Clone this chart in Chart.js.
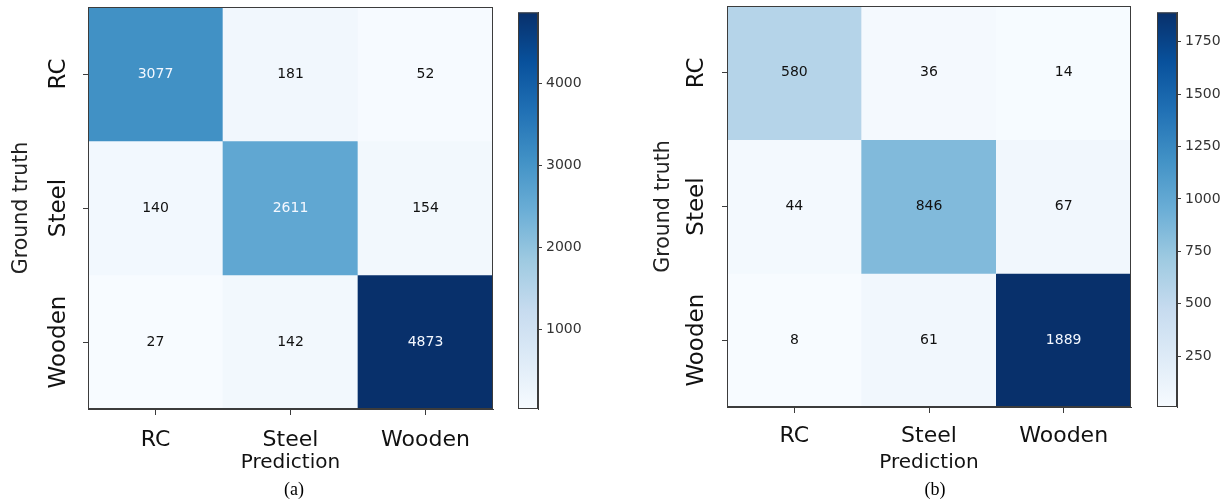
<!DOCTYPE html>
<html>
<head>
<meta charset="utf-8">
<script src="https://cdn.jsdelivr.net/npm/chart.js@4.4.1/dist/chart.umd.min.js"></script>
<style>
  html, body { margin: 0; padding: 0; background: #fff; }
  #wrap { position: relative; width: 1231px; height: 502px; overflow: hidden; background: #fff; }
  .box { position: absolute; top: 0; }
  .cap { position: absolute; font-family: "Liberation Serif", "Times New Roman", serif; font-size: 18px;
         color: #000; transform: translate(-50%, -50%); white-space: nowrap; }
</style>
</head>
<body>
<div id="wrap">
  <div class="box" style="left:0px"><canvas id="cmA" width="500" height="480"></canvas></div>
  <div class="box" style="left:505px"><canvas id="cbA" width="100" height="430"></canvas></div>
  <div class="box" style="left:620px"><canvas id="cmB" width="520" height="480"></canvas></div>
  <div class="box" style="left:1145px"><canvas id="cbB" width="86" height="430"></canvas></div>
  <div class="cap" style="left:294px; top:489px">(a)</div>
  <div class="cap" style="left:935px; top:489px">(b)</div>
</div>
<script>
// Class names on both axes
const predLabels = ['RC', 'Steel', 'Wooden'];
const truthLabels = ['RC', 'Steel', 'Wooden'];

// Confusion matrices: rows = ground truth, columns = prediction
const matrixA = [
  [3077, 181, 52],
  [140, 2611, 154],
  [27, 142, 4873]
];
const matrixB = [
  [580, 36, 14],
  [44, 846, 67],
  [8, 61, 1889]
];

// Colour bar tick values
const colorbarTicksA = [1000, 2000, 3000, 4000];
const colorbarTicksB = [250, 500, 750, 1000, 1250, 1500, 1750];

const LABEL_FONT = '"DejaVu Sans", sans-serif';
const NUM_FONT = '"DejaVu Sans", sans-serif';
const AXIS_COLOR = '#3c3c3c';

// matplotlib "Blues" colormap control points
const BLUES = ['#f7fbff', '#deebf7', '#c6dbef', '#9ecae1', '#6baed6', '#4292c6', '#2171b5', '#08519c', '#08306b'];

function hexToRgb(h) {
  const n = parseInt(h.slice(1), 16);
  return [(n >> 16) & 255, (n >> 8) & 255, n & 255];
}
const BLUES_RGB = BLUES.map(hexToRgb);

function blues(t) {
  t = Math.max(0, Math.min(1, t));
  const pos = t * (BLUES_RGB.length - 1);
  const i = Math.min(Math.floor(pos), BLUES_RGB.length - 2);
  const f = pos - i;
  const a = BLUES_RGB[i], b = BLUES_RGB[i + 1];
  const c = a.map((v, k) => Math.round(v + (b[k] - v) * f));
  return `rgb(${c[0]},${c[1]},${c[2]})`;
}

function extent(matrix) {
  const flat = matrix.flat();
  return [Math.min(...flat), Math.max(...flat)];
}

// Draws the cell values, the full frame and the rotated row labels
function matrixDecor(matrix, vmax, labelOffset) {
  return {
    id: 'matrixDecor',
    afterDatasetsDraw(chart) {
      const { ctx, chartArea: a, scales: { y } } = chart;
      ctx.save();
      ctx.font = `14px ${NUM_FONT}`;
      ctx.textAlign = 'center';
      ctx.textBaseline = 'middle';
      chart.data.datasets.forEach((ds, i) => {
        chart.getDatasetMeta(i).data.forEach((bar, j) => {
          const v = matrix[i][j];
          ctx.fillStyle = v > vmax / 2 ? '#f4f8ff' : '#111111';
          ctx.fillText(String(v), bar.x, (bar.y + bar.base) / 2);
        });
      });
      ctx.strokeStyle = AXIS_COLOR;
      ctx.lineWidth = 1;
      ctx.strokeRect(a.left + 0.5, a.top + 0.5, a.width - 1, a.height - 1);

      ctx.font = `23px ${LABEL_FONT}`;
      ctx.fillStyle = '#111';
      truthLabels.forEach((lab, i) => {
        const py = y.getPixelForValue(i + 0.5);
        ctx.save();
        ctx.translate(a.left - labelOffset, py);
        ctx.rotate(-Math.PI / 2);
        ctx.fillText(lab, 0, 0);
        ctx.restore();
      });
      ctx.restore();
    }
  };
}

function makeMatrix(id, matrix, L) {
  const [vmin, vmax] = extent(matrix);
  const datasets = matrix.map((row, i) => ({
    label: truthLabels[i],
    data: row.map(() => [i, i + 1]),
    backgroundColor: row.map(v => blues((v - vmin) / (vmax - vmin))),
    borderWidth: 0,
    barPercentage: 1,
    categoryPercentage: 1,
    grouped: false
  }));
  return new Chart(document.getElementById(id), {
    type: 'bar',
    data: { labels: predLabels, datasets },
    options: {
      responsive: false,
      animation: false,
      layout: { padding: { left: 0, top: L.top, right: L.right, bottom: 0 } },
      plugins: { legend: { display: false }, tooltip: { enabled: false } },
      scales: {
        x: {
          type: 'category',
          offset: true,
          afterFit: s => { s.height = L.xHeight; },
          grid: { offset: false, drawOnChartArea: false, tickLength: 6, color: AXIS_COLOR },
          border: { color: AXIS_COLOR, width: 1 },
          ticks: { font: { family: LABEL_FONT, size: 22 }, color: '#111', padding: L.tickPad, maxRotation: 0 },
          title: { display: true, text: 'Prediction', color: '#111',
                   font: { family: LABEL_FONT, size: 20 }, padding: { top: 0, bottom: 5 } }
        },
        y: {
          type: 'linear',
          min: 0, max: truthLabels.length,
          reverse: true,
          afterBuildTicks: s => { s.ticks = truthLabels.map((_, i) => ({ value: i + 0.5 })); },
          afterFit: s => { s.width = L.yWidth; },
          ticks: { display: false },
          grid: { drawOnChartArea: false, tickLength: 5, color: AXIS_COLOR },
          border: { color: AXIS_COLOR, width: 1 },
          title: { display: true, text: 'Ground truth', color: '#222',
                   font: { family: LABEL_FONT, size: 20.5 }, padding: { top: L.titlePad, bottom: 0 } }
        }
      }
    },
    plugins: [matrixDecor(matrix, vmax, L.labelOffset)]
  });
}

const frame = {
  id: 'cbFrame',
  afterDatasetsDraw(chart) {
    const { ctx, chartArea: a } = chart;
    ctx.save();
    ctx.strokeStyle = AXIS_COLOR;
    ctx.lineWidth = 1;
    ctx.strokeRect(a.left + 0.5, a.top + 0.5, a.width - 1, a.height - 1);
    ctx.restore();
  }
};

function makeColorbar(id, matrix, ticks, L) {
  const [vmin, vmax] = extent(matrix);
  return new Chart(document.getElementById(id), {
    type: 'bar',
    data: {
      labels: [''],
      datasets: [{
        data: [[vmin, vmax]],
        backgroundColor: c => {
          const ch = c.chart;
          if (!ch.chartArea) return BLUES[0];
          const y = ch.scales.y;
          const g = ch.ctx.createLinearGradient(0, y.getPixelForValue(vmin), 0, y.getPixelForValue(vmax));
          BLUES.forEach((col, k) => g.addColorStop(k / (BLUES.length - 1), col));
          return g;
        },
        borderWidth: 0,
        barPercentage: 1,
        categoryPercentage: 1
      }]
    },
    options: {
      responsive: false,
      animation: false,
      layout: { padding: { left: L.left, top: L.top, bottom: L.bottom, right: 0 } },
      plugins: { legend: { display: false }, tooltip: { enabled: false } },
      scales: {
        x: { display: false },
        y: {
          position: 'right',
          min: vmin, max: vmax,
          afterBuildTicks: s => { s.ticks = ticks.map(v => ({ value: v })); },
          afterFit: s => { s.width = L.axisW; },
          grid: { drawOnChartArea: false, tickLength: 4, color: AXIS_COLOR },
          border: { color: AXIS_COLOR, width: 1 },
          ticks: { font: { family: NUM_FONT, size: 14 }, color: '#333', padding: 4, callback: v => String(v) }
        }
      }
    },
    plugins: [frame]
  });
}

makeMatrix('cmA', matrixA, { top: 7, right: 7, yWidth: 88, xHeight: 71, tickPad: 12, titlePad: 9, labelOffset: 29 });
makeColorbar('cbA', matrixA, colorbarTicksA, { left: 13, top: 8, bottom: 21, axisW: 67 });
makeMatrix('cmB', matrixB, { top: 6, right: 9, yWidth: 107, xHeight: 73, tickPad: 10, titlePad: 31, labelOffset: 30 });
makeColorbar('cbB', matrixB, colorbarTicksB, { left: 12, top: 6, bottom: 23, axisW: 54 });
</script>
</body>
</html>
